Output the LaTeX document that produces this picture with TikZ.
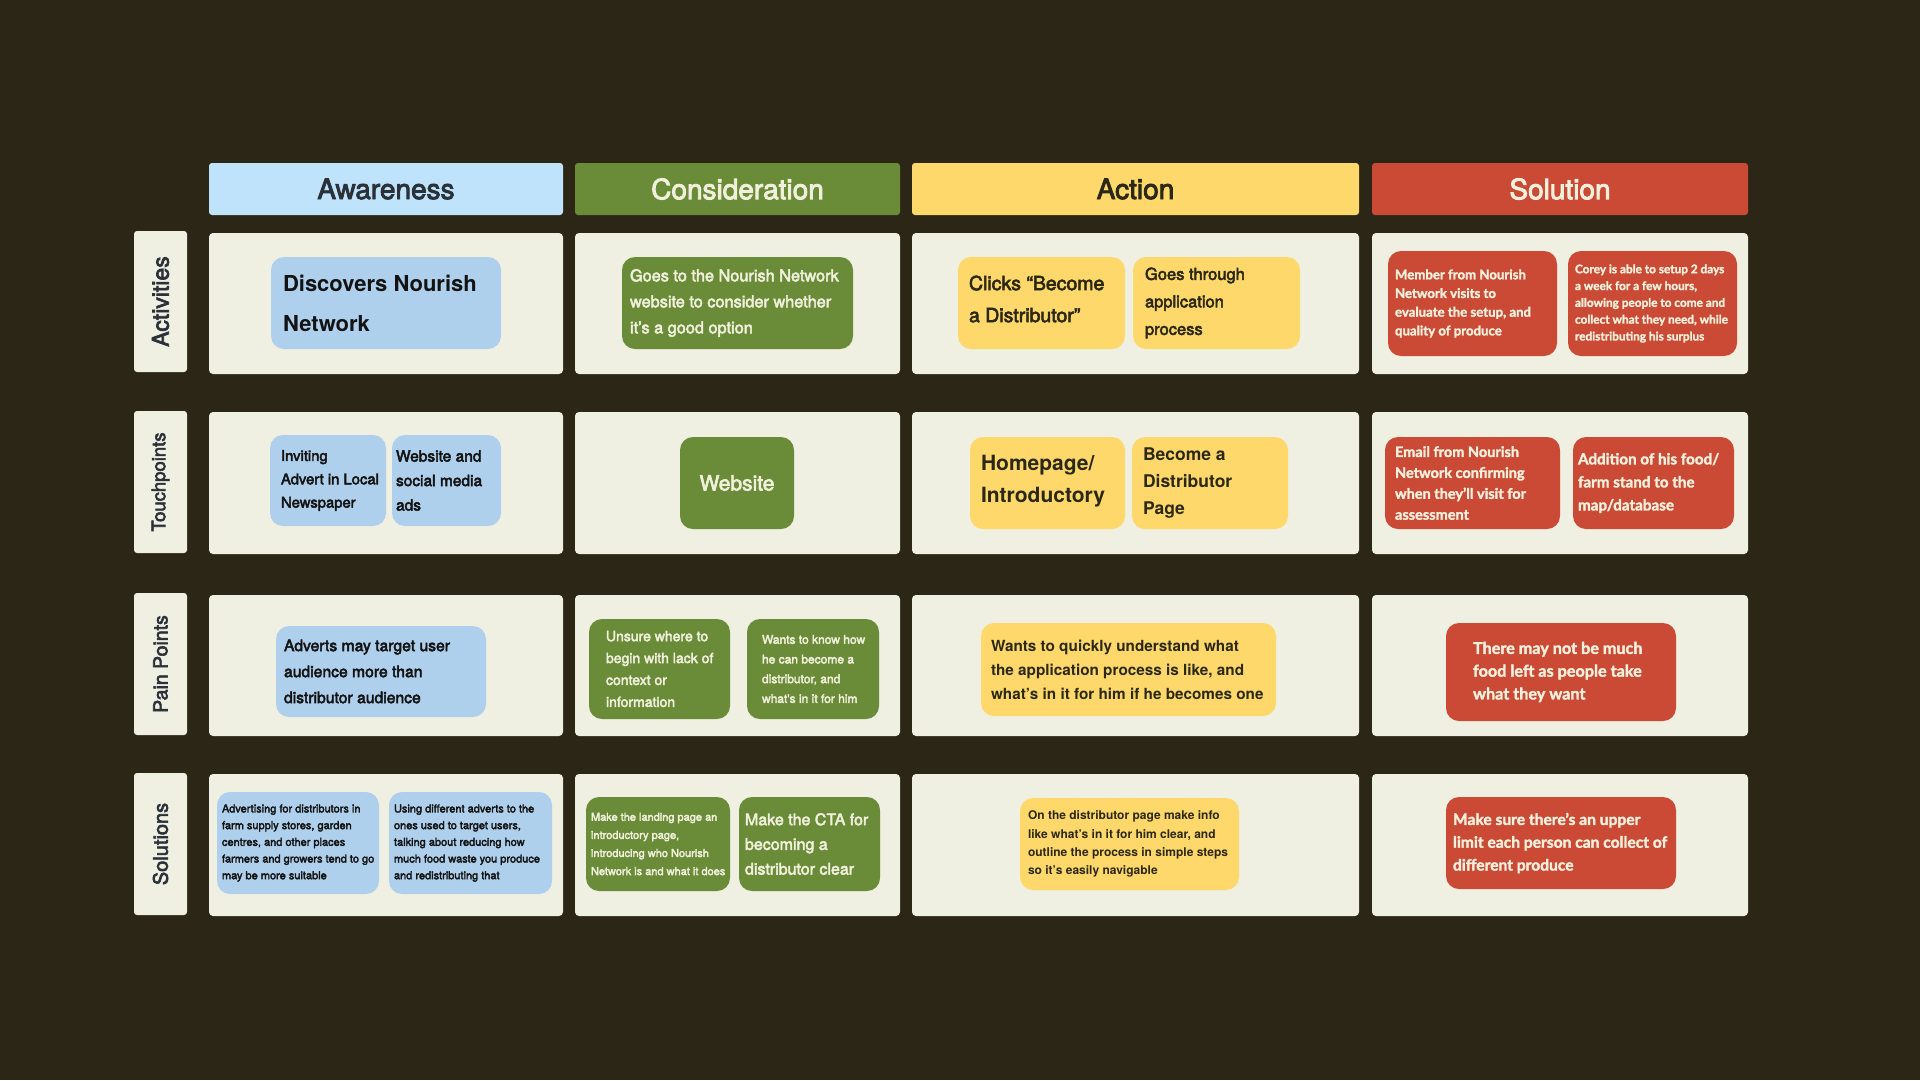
\documentclass[tikz,border=0pt]{standalone}
\usepackage{fontspec}
\setmainfont{TeX Gyre Heros}
\newfontfamily\medfont{TeX Gyre Heros}[FakeBold=3]
\newfontfamily\interfont{Lato}[FakeBold=2]

\definecolor{bg}{HTML}{2B2616}
\definecolor{cell}{HTML}{EFEFE2}
\definecolor{awHead}{HTML}{BEE3FA}
\definecolor{awCard}{HTML}{AFD0EC}
\definecolor{coGreen}{HTML}{6A8B37}
\definecolor{acYellow}{HTML}{FED86A}
\definecolor{soRed}{HTML}{CB4A35}
\definecolor{cream}{HTML}{F0F0DC}
\definecolor{ink}{HTML}{131313}
\definecolor{yink}{HTML}{2B2818}
\definecolor{slate}{HTML}{2A3138}

\tikzset{
  box/.style n args={4}{at={({(#1+#3)/2},{(#2+#4)/2})},
    minimum width=\dimexpr#3pt-#1pt\relax,
    minimum height=\dimexpr#4pt-#2pt\relax, inner sep=0pt},
  fs/.style n args={3}{font=#1\fontsize{#2}{#3}\selectfont},
  headcell/.style={rounded corners=3pt, fs={\medfont}{28}{32}},
  rowcell/.style={fill=cell, rounded corners=4pt},
  rowlabel/.style={fill=cell, rounded corners=3pt},
  labeltext/.style={rotate=90, text=slate, inner sep=0pt},
  cardtext/.style={anchor=west, align=left, inner sep=0pt},
  blueText/.style={text=ink},
  greenText/.style={text=cream},
  yellowText/.style={text=yink},
  redText/.style={text=cream},
}

% a coloured card with left-aligned text set at a fixed inset
\newcommand\card[9]{%
  \node[box={#2}{#3}{#4}{#5}, fill=#6, rounded corners=13pt] (#1) {};
  \node[cardtext, #8] (#1-txt) at ([xshift=#7pt]#1.west) {#9};
}

\begin{document}
\begin{tikzpicture}[x=1pt, y=-1pt]
\useasboundingbox (0,0) rectangle (1920,1080);
\fill[bg] (0,0) rectangle (1920,1080);

% column headers
\node[headcell, box={209}{163}{563}{215}, fill=awHead, text=slate] (hAw) {Awareness};
\node[headcell, box={575}{163}{900}{215}, fill=coGreen, text=cream] (hCo) {Consideration};
\node[headcell, box={912}{163}{1359}{215}, fill=acYellow, text=yink] (hAc) {Action};
\node[headcell, box={1372}{163}{1748}{215}, fill=soRed, text=cream] (hSo) {Solution};

% row labels
\node[rowlabel, box={134}{231}{187}{372}] (lAct) {};
\node[labeltext, fs={\medfont}{23}{26}] at (lAct.center) (lActT) {Activities};
\node[rowlabel, box={134}{411}{187}{553}] (lTou) {};
\node[labeltext, fs={\medfont}{18.5}{22}] at (lTou.center) (lTouT) {Touchpoints};
\node[rowlabel, box={134}{593}{187}{735}] (lPai) {};
\node[labeltext, fs={\medfont}{19.5}{22}] at (lPai.center) (lPaiT) {Pain Points};
\node[rowlabel, box={134}{773}{187}{915}] (lSol) {};
\node[labeltext, fs={\medfont}{20}{22}] at (lSol.center) (lSolT) {Solutions};

% row cells
\foreach \r/\ya/\yb in {1/233/374, 2/412/554, 3/595/736, 4/774/916}{
  \node[rowcell, box={209}{\ya}{563}{\yb}] (aw\r) {};
  \node[rowcell, box={575}{\ya}{900}{\yb}] (co\r) {};
  \node[rowcell, box={912}{\ya}{1359}{\yb}] (ac\r) {};
  \node[rowcell, box={1372}{\ya}{1748}{\yb}] (so\r) {};
}

% ---- Activities
\card{a1}{271}{257}{501}{349}{awCard}{12}{blueText, fs={\bfseries}{22}{40}}{Discovers Nourish\\Network}
\card{c1}{622}{257}{853}{349}{coGreen}{8}{greenText, fs={\medfont}{16.3}{26}}{Goes to the Nourish Network\\website to consider whether\\it’s a good option}
\card{x1a}{958}{257}{1125}{349}{acYellow}{11}{yellowText, fs={\medfont}{19.5}{32}, yshift=4pt}{Clicks “Become\\a Distributor”}
\card{x1b}{1133}{257}{1300}{349}{acYellow}{12}{yellowText, fs={\medfont}{16.5}{27.5}}{Goes through\\application\\process}
\card{s1a}{1388}{251}{1557}{356}{soRed}{7}{redText, fs={\interfont\bfseries}{13.2}{18.7}}{Member from Nourish\\Network visits to\\evaluate the setup, and\\quality of produce}
\card{s1b}{1568}{251}{1737}{356}{soRed}{7}{redText, fs={\interfont\bfseries}{11.8}{16.8}}{Corey is able to setup 2 days\\a week for a few hours,\\allowing people to come and\\collect what they need, while\\redistributing his surplus}

% ---- Touchpoints
\card{a2a}{270}{435}{386}{526}{awCard}{11}{blueText, fs={\medfont}{14.8}{23.3}}{Inviting\\Advert in Local\\Newspaper}
\card{a2b}{392}{435}{501}{526}{awCard}{4}{blueText, fs={\medfont}{15.5}{24.5}}{Website and\\social media\\ads}
\node[box={680}{437}{794}{529}, fill=coGreen, rounded corners=13pt, text=cream, fs={\medfont}{21}{24}] (c2) {Website};
\card{x2a}{970}{437}{1125}{529}{acYellow}{11}{yellowText, fs={\bfseries}{21}{32}, yshift=2pt}{Homepage/\\Introductory}
\card{x2b}{1132}{437}{1288}{529}{acYellow}{11}{yellowText, fs={\bfseries}{17.5}{26.7}}{Become a\\Distributor\\Page}
\card{s2a}{1385}{437}{1560}{529}{soRed}{10}{redText, fs={\interfont\bfseries}{14.5}{20.9}}{Email from Nourish\\Network confirming\\when they’ll visit for\\assessment}
\card{s2b}{1573}{437}{1734}{529}{soRed}{5}{redText, fs={\interfont\bfseries}{15.2}{23}}{Addition of his food/\\farm stand to the\\map/database}

% ---- Pain Points
\card{a3}{276}{626}{486}{717}{awCard}{8}{blueText, fs={\medfont}{15.7}{26}}{Adverts may target user\\audience more than\\distributor audience}
\card{c3a}{589}{619}{730}{719}{coGreen}{17}{greenText, fs={\medfont}{14}{21.9}}{Unsure where to\\begin with lack of\\context or\\information}
\card{c3b}{747}{619}{879}{719}{coGreen}{15}{greenText, fs={\medfont}{12}{19.7}}{Wants to know how\\he can become a\\distributor, and\\what's in it for him}
\card{x3}{981}{623}{1276}{716}{acYellow}{10}{yellowText, fs={\bfseries}{15.3}{24}}{Wants to quickly understand what\\the application process is like, and\\what’s in it for him if he becomes one}
\card{s3}{1446}{623}{1676}{721}{soRed}{27}{redText, fs={\interfont\bfseries}{16.2}{22.8}}{There may not be much\\food left as people take\\what they want}

% ---- Solutions
\card{a4a}{217}{792}{379}{894}{awCard}{5}{blueText, fs={\medfont}{11}{16.7}}{Advertising for distributors in\\farm supply stores, garden\\centres, and other places\\farmers and growers tend to go\\may be more suitable}
\card{a4b}{389}{792}{552}{894}{awCard}{5}{blueText, fs={\medfont}{11}{16.7}}{Using different adverts to the\\ones used to target users,\\talking about reducing how\\much food waste you produce\\and redistributing that}
\card{c4a}{586}{797}{730}{891}{coGreen}{5}{greenText, fs={\medfont}{11}{18.1}}{Make the landing page an\\introductory page,\\introducing who Nourish\\Network is and what it does}
\card{c4b}{739}{797}{880}{891}{coGreen}{6}{greenText, fs={\medfont}{16}{24.7}}{Make the CTA for\\becoming a\\distributor clear}
\card{x4}{1020}{798}{1239}{890}{acYellow}{8}{yellowText, fs={\bfseries}{12}{18.3}}{On the distributor page make info\\like what’s in it for him clear, and\\outline the process in simple steps\\so it’s easily navigable}
\card{s4}{1446}{797}{1676}{889}{soRed}{7}{redText, fs={\interfont\bfseries}{15.6}{22.8}}{Make sure there’s an upper\\limit each person can collect of\\different produce}

\end{tikzpicture}
\end{document}
